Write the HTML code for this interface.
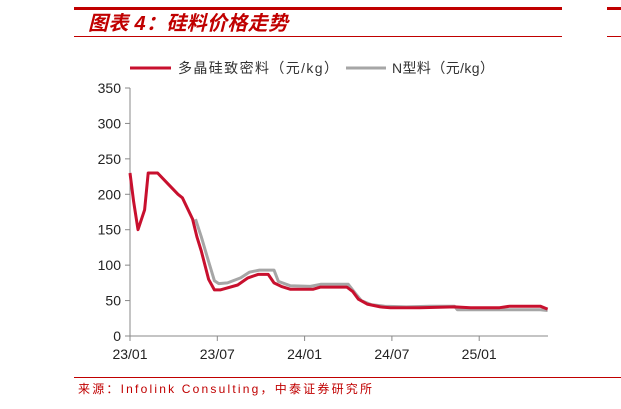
<!DOCTYPE html>
<html><head><meta charset="utf-8"><style>
body{margin:0;width:621px;height:409px;background:#fff;overflow:hidden;font-family:"Liberation Sans","Noto Sans CJK SC",sans-serif}
</style></head><body>
<svg width="621" height="409" style="position:absolute;left:0;top:0">
<rect x="74" y="7" width="488" height="3" fill="#c00000"/>
<rect x="607" y="7" width="14" height="3" fill="#c00000"/>
<text x="88" y="30" font-size="20" font-weight="bold" font-style="italic" fill="#c00000" textLength="200">图表 4：硅料价格走势</text>
<rect x="74" y="36" width="488" height="1" fill="#c00000"/>
<rect x="607" y="36" width="14" height="1" fill="#c00000"/>
<g>
<line x1="130" y1="68" x2="171" y2="68" stroke="#c8102e" stroke-width="3"/>
<text x="178" y="73" font-size="14" fill="#333" textLength="160">多晶硅致密料（元/kg）</text>
<line x1="346" y1="68" x2="386" y2="68" stroke="#a6a6a6" stroke-width="3"/>
<text x="392" y="73" font-size="14" fill="#333" textLength="102">N型料（元/kg）</text>
</g>
<g id="axes"></g>
<g id="series"></g>
<rect x="74" y="377" width="547" height="1" fill="#c00000"/>
<text x="78" y="393" font-size="12" fill="#c00000" textLength="294">来源：Infolink Consulting，中泰证券研究所</text>
</svg>
<script>
const yTicks=[0,50,100,150,200,250,300,350];
const xTickLabels=["23/01","23/07","24/01","24/07","25/01"];
const xTickMonths=[0,6,12,18,24];
const polyMonths=[0,0.25,0.55,1,1.25,1.9,2.6,3.3,3.6,4.3,4.6,4.9,5.4,5.8,6.2,7.4,8.1,8.8,9.5,9.9,10.4,11,12.6,13.1,14.9,15.3,15.7,16.3,17.2,17.9,19.9,22.3,23.4,25.4,26.1,28.2,28.7];
const polyValues=[230,190,150,178,230,230,215,200,195,165,140,120,80,65,65,72,82,87,87,75,70,66,66,69,69,63,52,45,41,40,40,41,40,40,42,42,38];
const nMonths=[4.5,4.9,5.4,5.8,6.1,6.7,7.6,8.2,8.9,9.9,10.2,11,12.4,13.1,15,15.5,15.9,16.6,17.5,19,20.6,22.3,22.5,26,28.2,28.7];
const nValues=[165,140,105,78,74,75,82,90,93,93,77,71,70,73,73,60,50,44,42,41,42,42,37,37,37,36];
const X=m=>130+m*14.55, Y=v=>336-v*248/350;
const NS="http://www.w3.org/2000/svg";
const ax=document.getElementById('axes'), se=document.getElementById('series');
function mk(t,a,p){const e=document.createElementNS(NS,t);for(const k in a)e.setAttribute(k,a[k]);p.appendChild(e);return e;}
let yl=mk('line',{x1:130,y1:88,x2:130,y2:336,stroke:'#888'},ax);


let xl=mk('line',{x1:130,y1:336,x2:548,y2:336,stroke:'#888'},ax);


yTicks.forEach(v=>{mk('line',{x1:125,y1:Y(v),x2:130,y2:Y(v),stroke:'#888'},ax);
const t=mk('text',{x:121,y:Y(v)+5,'text-anchor':'end','font-size':14,fill:'#222'},ax);t.textContent=v;

});
xTickMonths.forEach((m,i)=>{mk('line',{x1:X(m),y1:336,x2:X(m),y2:341,stroke:'#888'},ax);
const t=mk('text',{x:X(m),y:359,'text-anchor':'middle','font-size':14,fill:'#222'},ax);t.textContent=xTickLabels[i];

});
function pts(ms,vs){return ms.map((m,i)=>X(m).toFixed(1)+','+Y(vs[i]).toFixed(1)).join(' ');}
let n=mk('polyline',{points:pts(nMonths,nValues),fill:'none',stroke:'#a6a6a6','stroke-width':3,'stroke-linejoin':'round'},se);


let p=mk('polyline',{points:pts(polyMonths,polyValues),fill:'none',stroke:'#c8102e','stroke-width':3,'stroke-linejoin':'round'},se);


</script>
</body></html>
